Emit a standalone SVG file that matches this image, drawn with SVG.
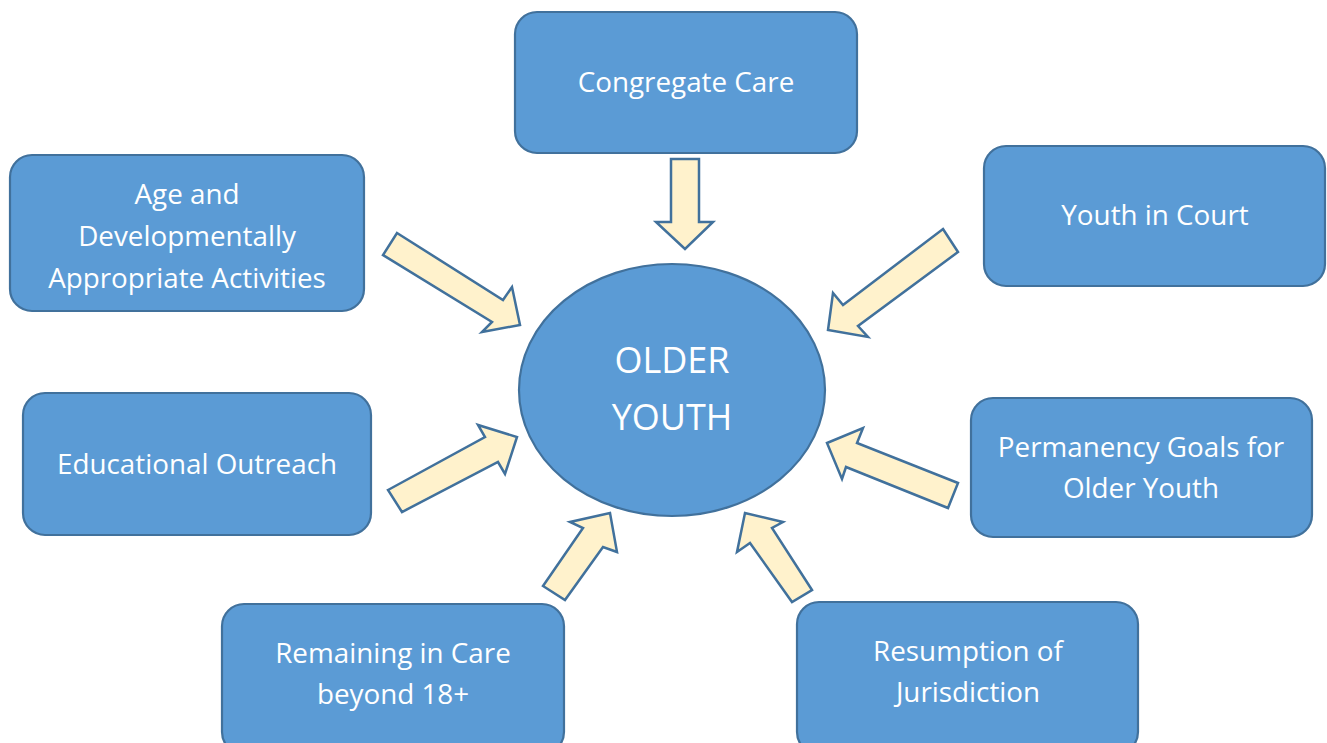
<svg xmlns="http://www.w3.org/2000/svg" width="1327" height="743" viewBox="0 0 1327 743">
<style>
.box{fill:#5B9BD5;stroke:#41719C;stroke-width:2.2}
.arr{fill:#FFF2CC;stroke:#41719C;stroke-width:2.5;stroke-linejoin:miter}
.t{font-family:"Open Sans","Noto Sans",sans-serif;font-size:27.8px;fill:#FFFFFF;text-anchor:middle}
.big{font-size:36px}
</style>
<rect width="1327" height="743" fill="#FFFFFF"/>
<g id="connectors">
<polygon class="arr" points="671,159 699,159 699,222 713,222 685,249 656,222 671,222"/>
<polygon class="arr" points="397,233 503,300 512,287 520,325 482,332 492,322 383,255"/>
<polygon class="arr" points="943,229 958,252 858,326 868,337 828,330 833,293 843,305"/>
<polygon class="arr" points="388,490 485,437 478,425 517,437 505,474 498,462 402,512"/>
<polygon class="arr" points="958,483 857,443 863,428 827,443 842,479 846,467 948,508"/>
<polygon class="arr" points="543,586 583,528 570,522 610,513 617,552 603,547 565,600"/>
<polygon class="arr" points="812,590 772,528 783,522 745,513 737,552 750,543 792,602"/>
</g>
<g id="older-youth">
<ellipse class="box" cx="672" cy="390" rx="153" ry="126"/>
<text class="t big" x="672" y="373">OLDER</text>
<text class="t big" x="672" y="430">YOUTH</text>
</g>
<g id="congregate-care">
<rect class="box" x="515" y="12" width="342" height="141" rx="22"/>
<text class="t" x="686" y="92">Congregate Care</text>
</g>
<g id="age-activities">
<rect class="box" x="10" y="155" width="354" height="156" rx="22"/>
<text class="t" x="187" y="204">Age and</text>
<text class="t" x="187" y="246">Developmentally</text>
<text class="t" x="187" y="288">Appropriate Activities</text>
</g>
<g id="youth-in-court">
<rect class="box" x="984" y="146" width="341" height="140" rx="22"/>
<text class="t" x="1155" y="225">Youth in Court</text>
</g>
<g id="educational-outreach">
<rect class="box" x="23" y="393" width="348" height="142" rx="22"/>
<text class="t" x="197" y="474">Educational Outreach</text>
</g>
<g id="permanency-goals">
<rect class="box" x="971" y="398" width="341" height="139" rx="22"/>
<text class="t" x="1141" y="457">Permanency Goals for</text>
<text class="t" x="1141" y="498">Older Youth</text>
</g>
<g id="remaining-in-care">
<rect class="box" x="222" y="604" width="342" height="150" rx="22"/>
<text class="t" x="393" y="663">Remaining in Care</text>
<text class="t" x="393" y="704">beyond 18+</text>
</g>
<g id="resumption">
<rect class="box" x="797" y="602" width="341" height="152" rx="22"/>
<text class="t" x="968" y="661">Resumption of</text>
<text class="t" x="968" y="702">Jurisdiction</text>
</g>
</svg>
